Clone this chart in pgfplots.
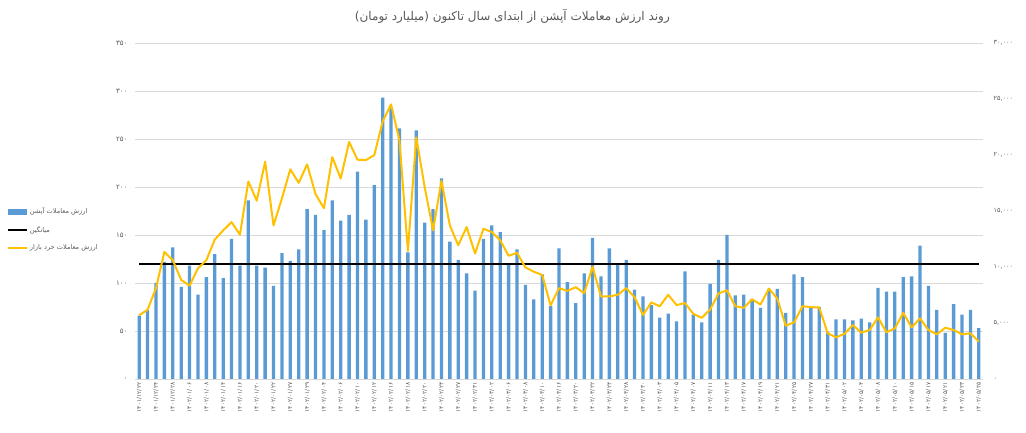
\documentclass[border=0pt]{standalone}
\usepackage{fontspec}
\usepackage{pgfplots}
\pgfplotsset{compat=1.18}
\usepackage{pgfplotstable}
\TeXXeTstate=1
\newfontfamily\arabicfont[Script=Arabic]{DejaVu Sans}
\newfontfamily\digfont{DejaVu Sans}
\definecolor{barblue}{HTML}{5B9BD5}
\definecolor{gold}{HTML}{FFC000}
\definecolor{txtgray}{HTML}{595959}
\definecolor{gridgray}{HTML}{D9D9D9}

\pgfplotstableread{
x bar retail
1 66 5690
2 72 6190
3 100 8110
4 122 11350
5 137 10610
6 96 8845
7 118 8345
8 88 9880
9 106 10610
10 130 12445
11 105 13270
12 146 14005
13 118 12885
14 186 17635
15 118 15925
16 116 19400
17 97 13710
18 131 16130
19 123 18720
20 135 17515
21 177 19165
22 171 16510
23 155 15245
24 186 19815
25 165 17895
26 171 21170
27 216 19580
28 166 19545
29 202 19990
30 293 23000
31 282 24530
32 261 21290
33 132 11440
34 259 21580
35 163 17140
36 177 13270
37 209 17690
38 143 13710
39 124 11940
40 110 13560
41 92 11205
42 146 13415
43 160 13115
44 153 12385
45 119 11000
46 135 11265
47 98 9965
48 83 9580
49 109 9290
50 76 6575
51 136 8110
52 101 7870
53 79 8195
54 110 7665
55 147 10025
56 107 7370
57 136 7370
58 119 7520
59 124 8110
60 93 7310
61 86 5720
62 77 6840
63 64 6490
64 68 7520
65 60 6600
66 112 6780
67 67 5810
68 59 5460
69 99 6200
70 124 7640
71 150 7920
72 87 6500
73 88 6355
74 83 7120
75 74 6650
76 94 8070
77 94 7180
78 69 4760
79 109 5055
80 106 6500
81 75 6415
82 75 6385
83 49 4080
84 62 3725
85 62 4030
86 61 4820
87 63 4140
88 59 4375
89 95 5500
90 91 4170
91 91 4520
92 106 5910
93 107 4610
94 139 5410
95 97 4375
96 72 3990
97 48 4580
98 78 4375
99 67 3990
100 72 4080
101 53 3340
}\datatable

\begin{document}
\begin{tikzpicture}
\path[use as bounding box] (0pt,0pt) rectangle (1026pt,433pt);
\begin{axis}[
  at={(135pt,54pt)}, anchor=south west,
  scale only axis, width=848pt, height=336pt,
  xmin=0.5, xmax=101.5, ymin=0, ymax=350,
  axis line style={draw=none}, tick style={draw=none},
  ymajorgrids, grid style={gridgray, line width=0.6pt},
  xtick={1,3,...,101},
  xticklabels={۱۴۰۱/۱۲/۲۲,۱۴۰۱/۱۲/۲۴,۱۴۰۱/۱۲/۲۸,۱۴۰۲/۰۱/۰۶,۱۴۰۲/۰۱/۰۸,۱۴۰۲/۰۱/۱۴,۱۴۰۲/۰۱/۱۶,۱۴۰۲/۰۱/۲۰,۱۴۰۲/۰۱/۲۲,۱۴۰۲/۰۱/۲۷,۱۴۰۲/۰۱/۲۹,۱۴۰۲/۰۲/۰۴,۱۴۰۲/۰۲/۰۶,۱۴۰۲/۰۲/۱۰,۱۴۰۲/۰۲/۱۲,۱۴۰۲/۰۲/۱۶,۱۴۰۲/۰۲/۱۸,۱۴۰۲/۰۲/۲۰,۱۴۰۲/۰۲/۲۴,۱۴۰۲/۰۲/۲۷,۱۴۰۲/۰۲/۳۱,۱۴۰۲/۰۳/۰۲,۱۴۰۲/۰۳/۰۶,۱۴۰۲/۰۳/۰۸,۱۴۰۲/۰۳/۱۰,۱۴۰۲/۰۳/۱۶,۱۴۰۲/۰۳/۲۰,۱۴۰۲/۰۳/۲۲,۱۴۰۲/۰۳/۲۴,۱۴۰۲/۰۳/۲۸,۱۴۰۲/۰۳/۳۰,۱۴۰۲/۰۴/۰۳,۱۴۰۲/۰۴/۰۵,۱۴۰۲/۰۴/۰۷,۱۴۰۲/۰۴/۱۱,۱۴۰۲/۰۴/۱۳,۱۴۰۲/۰۴/۱۷,۱۴۰۲/۰۴/۱۹,۱۴۰۲/۰۴/۲۱,۱۴۰۲/۰۴/۲۵,۱۴۰۲/۰۴/۲۷,۱۴۰۲/۰۴/۳۱,۱۴۰۲/۰۵/۰۲,۱۴۰۲/۰۵/۰۴,۱۴۰۲/۰۵/۰۸,۱۴۰۲/۰۵/۱۰,۱۴۰۲/۰۵/۱۵,۱۴۰۲/۰۵/۱۷,۱۴۰۲/۰۵/۲۱,۱۴۰۲/۰۵/۲۳,۱۴۰۲/۰۵/۲۵},
  xticklabel style={font=\digfont\fontsize{6}{7}\selectfont, text=txtgray, rotate=90, anchor=east},
  ytick={0,50,...,350},
  yticklabels={۰,۵۰,۱۰۰,۱۵۰,۲۰۰,۲۵۰,۳۰۰,۳۵۰},
  yticklabel style={font=\digfont\fontsize{7}{8}\selectfont, text=txtgray, xshift=-4pt},
  title={\arabicfont\beginR روند ارزش معاملات آپشن از ابتدای سال تاکنون (میلیارد تومان)\endR},
  title style={at={(0.445,1)}, anchor=center, yshift=21pt, font=\fontsize{12}{14}\selectfont, text=txtgray},
  legend style={at={(-0.151,0.445)}, anchor=west, draw=none, fill=none,
    font=\arabicfont\fontsize{6.6}{8}\selectfont, text=txtgray, row sep=7pt, inner sep=0pt},
  legend cell align=left,
]
\addplot[ybar, bar width=3.3pt, bar shift=0pt, fill=barblue, draw=none,
  legend image code/.code={\fill[barblue] (0pt,-3pt) rectangle (19pt,3pt);}]
  table[x=x, y=bar]{\datatable};
\addlegendentry{\beginR ارزش معاملات آپشن\endR}
\addplot[black, line width=1.8pt,
  legend image code/.code={\draw[black, line width=1.8pt] (0pt,0pt) -- (19pt,0pt);}]
  coordinates {(1,119.7) (101,119.7)};
\addlegendentry{\beginR میانگین\endR}
\addlegendimage{legend image code/.code={\draw[gold, line width=1.8pt] (0pt,0pt) -- (19pt,0pt);}}
\addlegendentry{\beginR ارزش معاملات خرد بازار\endR}
\end{axis}
\begin{axis}[
  at={(135pt,54pt)}, anchor=south west,
  scale only axis, width=848pt, height=336pt,
  xmin=0.5, xmax=101.5, ymin=0, ymax=30000,
  axis x line=none, axis y line*=right,
  axis line style={draw=none}, tick style={draw=none},
  scaled y ticks=false,
  ytick={0,5000,...,30000},
  yticklabels={۰,{۵,۰۰۰},{۱۰,۰۰۰},{۱۵,۰۰۰},{۲۰,۰۰۰},{۲۵,۰۰۰},{۳۰,۰۰۰}},
  yticklabel style={font=\digfont\fontsize{6.5}{8}\selectfont, text=txtgray, xshift=7pt},
]
\addplot[gold, line width=2pt, line join=round] table[x=x, y=retail]{\datatable};
\end{axis}
\end{tikzpicture}
\end{document}
